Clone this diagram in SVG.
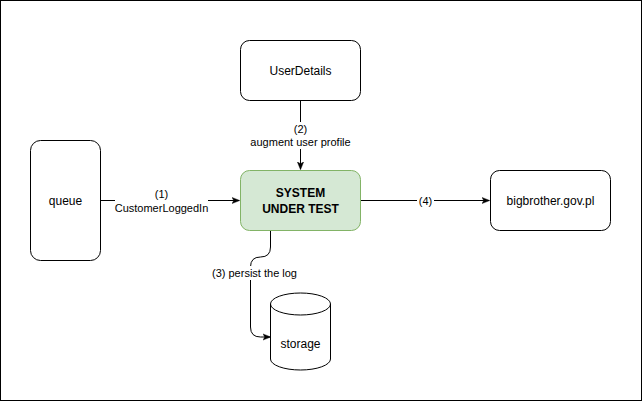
<svg xmlns="http://www.w3.org/2000/svg" width="642" height="401" viewBox="0 0 642 401">
  <style>
    .box { fill: #ffffff; stroke: #000000; stroke-width: 1; }
    .sut { fill: #d5e8d4; stroke: #82b366; stroke-width: 1; }
    .edge { fill: none; stroke: #000000; stroke-width: 1; }
    text { font-family: "Liberation Sans", Arial, Helvetica, sans-serif; font-size: 12px; fill: #000000; text-anchor: middle; }
    .bold { font-weight: bold; }
    .lbl { font-size: 11px; }
    .lblbg { fill: #ffffff; stroke: none; }
  </style>
  <defs>
    <marker id="arrow" viewBox="0 0 10 10" refX="9" refY="5" markerWidth="8" markerHeight="8" markerUnits="userSpaceOnUse" orient="auto">
      <path d="M0,1 L10,5 L0,9 L2.5,5 Z" fill="#000000" stroke="#000000" stroke-width="0.5"/>
    </marker>
  </defs>

  <!-- page frame -->
  <rect x="0.5" y="0.5" width="641" height="400" fill="#ffffff" stroke="#000000"/>

  <!-- connectors -->
  <g id="connectors">
    <path class="edge" d="M100.5,200.5 L239,200.5" marker-end="url(#arrow)"/>
    <path class="edge" d="M300.5,100.5 L300.5,169" marker-end="url(#arrow)"/>
    <path class="edge" d="M360.5,200.5 L489,200.5" marker-end="url(#arrow)"/>
    <path class="edge" d="M270.5,230.5 L270.5,247 Q270.5,257 260.5,257 Q250.5,257 250.5,267 L250.5,327 Q250.5,337 260.5,337 L270,337" marker-end="url(#arrow)"/>

    <!-- edge labels -->
    <rect class="lblbg" x="115" y="187" width="93" height="27"/>
    <text class="lbl" x="161.5" y="197.5">(1)</text>
    <text class="lbl" x="161.5" y="211.5">CustomerLoggedIn</text>

    <rect class="lblbg" x="249" y="122" width="103" height="27"/>
    <text class="lbl" x="300.5" y="132.5">(2)</text>
    <text class="lbl" x="300.5" y="146">augment user profile</text>

    <rect class="lblbg" x="417" y="194" width="17" height="13"/>
    <text class="lbl" x="425.5" y="204.5">(4)</text>

    <rect class="lblbg" x="210" y="266" width="88" height="14"/>
    <text class="lbl" x="254.5" y="276.5">(3) persist the log</text>
  </g>

  <!-- nodes -->
  <g id="queue">
    <rect class="box" x="30.5" y="140.5" width="70" height="120" rx="10" ry="10"/>
    <text x="65.5" y="204.5">queue</text>
  </g>

  <g id="userDetails">
    <rect class="box" x="240.5" y="40.5" width="120" height="60" rx="9" ry="9"/>
    <text x="300.5" y="75">UserDetails</text>
  </g>

  <g id="systemUnderTest">
    <rect class="sut" x="240.5" y="170.5" width="120" height="60" rx="9" ry="9"/>
    <text class="bold" x="300.5" y="197">SYSTEM</text>
    <text class="bold" x="300.5" y="212.5">UNDER TEST</text>
  </g>

  <g id="bigbrother">
    <rect class="box" x="490.5" y="170.5" width="120" height="60" rx="9" ry="9"/>
    <text x="550.5" y="205">bigbrother.gov.pl</text>
  </g>

  <g id="storage">
    <path class="box" d="M270.5,304 A30,11 0 0 1 330.5,304 L330.5,359 A30,11 0 0 1 270.5,359 Z"/>
    <path class="edge" d="M270.5,304 A30,11 0 0 0 330.5,304"/>
    <text x="300.5" y="348">storage</text>
  </g>
</svg>
